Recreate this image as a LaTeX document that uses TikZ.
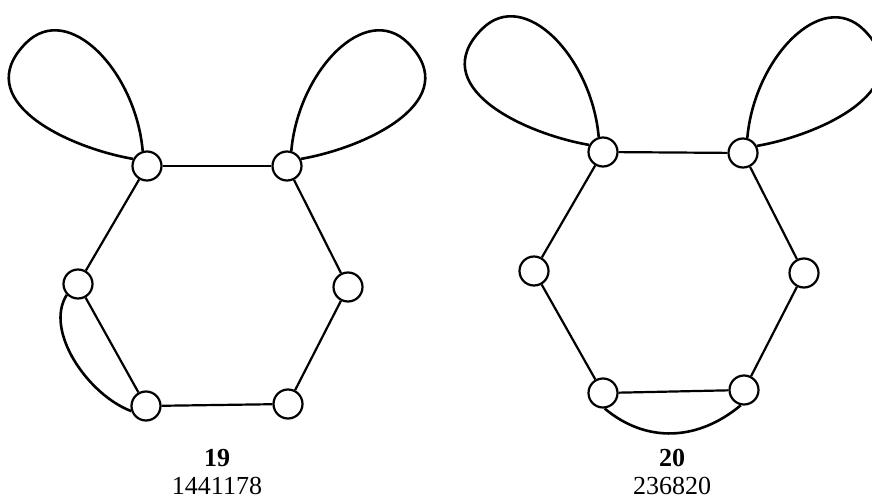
\documentclass[tikz,border=0pt]{standalone}
\usepackage{fontspec}
\setmainfont{Liberation Serif}
\usetikzlibrary{positioning}
\tikzstyle{vertex} = [circle,
                     draw=black,
                     fill=white,
                     minimum size=29pt,
                     inner sep=0pt]
\tikzstyle{numtext} = [anchor=base, inner sep=0pt]
\tikzstyle{petal} = [line width=2.6pt]

\begin{document}
\begin{tikzpicture}[x=1pt, y=1pt,
                    line width=2.2pt,
                    font=\fontsize{26}{30}\selectfont]
    \useasboundingbox (0,0) rectangle (872,499);
    % graph 19
    \node (1) at (147,333) [vertex] {};
    \node (2) at (287,333) [vertex] {};
    \node (3) at (348,212) [vertex] {};
    \node (4) at (288,95) [vertex] {};
    \node (5) at (146,93) [vertex] {};
    \node (6) at (78,215) [vertex] {};
    \path
      (1) edge (2)
      (2) edge (3)
      (3) edge (4)
      (4) edge (5)
      (5) edge (6)
      (6) edge (1);
    \draw[petal] (6.-136) .. controls +(-23,-36) and +(-43,16) .. (5.-161);
    \draw[petal] (1.106) .. controls +(95:80) and +(45:60) .. ([shift={(-121,123)}]1.center)
                  .. controls +(225:80) and +(170:70) .. (1.153);
    \draw[petal] (2.74) .. controls +(85:80) and +(135:60) .. ([shift={(121,123)}]2.center)
                 .. controls +(-45:80) and +(10:70) .. (2.27);
    \node (n19) at (217,33) [numtext] {\textbf{19}};
    \node (c19) at (217,5) [numtext] {1441178};

    % graph 20
    \node (7) at (603,347) [vertex] {};
    \node (8) at (743,346) [vertex] {};
    \node (9) at (804,226) [vertex] {};
    \node (10) at (744,109) [vertex] {};
    \node (11) at (603,106) [vertex] {};
    \node (12) at (534,228) [vertex] {};
    \path
      (7) edge (8)
      (8) edge (9)
      (9) edge (10)
      (10) edge (11)
      (11) edge (12)
      (12) edge (7);
    \draw[petal] (11.-84) .. controls +(-40:55) and +(-140:55) .. (10.-102);
    \draw[petal] (7.106) .. controls +(95:80) and +(45:60) .. ([shift={(-121,123)}]7.center)
                  .. controls +(225:80) and +(170:70) .. (7.153);
    \draw[petal] (8.74) .. controls +(85:80) and +(135:60) .. ([shift={(121,123)}]8.center)
                 .. controls +(-45:80) and +(10:70) .. (8.27);
    \node (n20) at (672,33) [numtext] {\textbf{20}};
    \node (c20) at (672,5) [numtext] {236820};
\end{tikzpicture}
\end{document}
